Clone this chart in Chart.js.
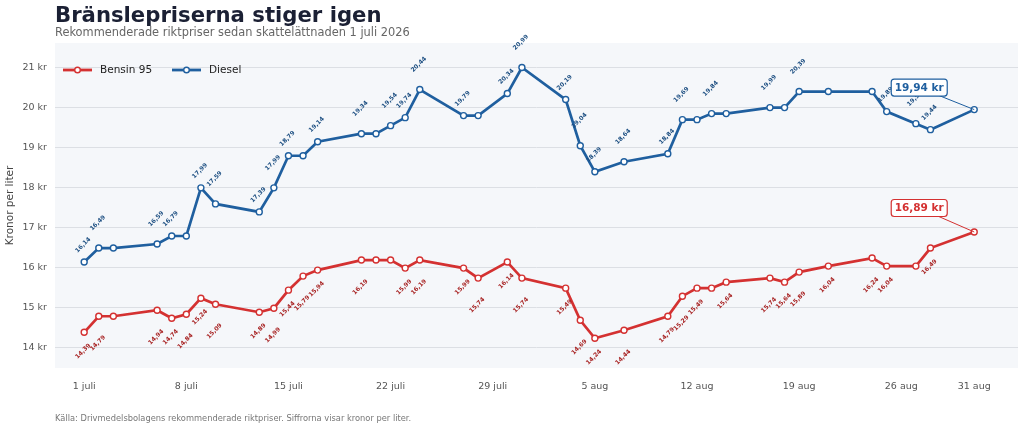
<!DOCTYPE html>
<html lang="sv">
<head>
<meta charset="utf-8">
<title>Bränslepriserna stiger igen</title>
<script src="https://cdn.jsdelivr.net/npm/chart.js@4.4.1/dist/chart.umd.min.js"></script>
<style>
  html, body { margin: 0; padding: 0; background: #fff; }
  #wrap { width: 1024px; height: 428px; }
</style>
</head>
<body>
<div id="wrap"><canvas id="prisChart" width="1024" height="428"></canvas></div>
<script>
// Datum med prisändringar (riktpris, kr/liter)
const datum = [
  '2026-07-01', '2026-07-02', '2026-07-03', '2026-07-06', '2026-07-07', '2026-07-08', '2026-07-09', '2026-07-10',
  '2026-07-13', '2026-07-14', '2026-07-15', '2026-07-16', '2026-07-17', '2026-07-20', '2026-07-21', '2026-07-22',
  '2026-07-23', '2026-07-24', '2026-07-27', '2026-07-28', '2026-07-30', '2026-07-31', '2026-08-03', '2026-08-04',
  '2026-08-05', '2026-08-07', '2026-08-10', '2026-08-11', '2026-08-12', '2026-08-13', '2026-08-14', '2026-08-17',
  '2026-08-18', '2026-08-19', '2026-08-21', '2026-08-24', '2026-08-25', '2026-08-27', '2026-08-28', '2026-08-31'
];
const bensin95 = [
  14.39, 14.79, 14.79, 14.94, 14.74, 14.84, 15.24, 15.09,
  14.89, 14.99, 15.44, 15.79, 15.94, 16.19, 16.19, 16.19,
  15.99, 16.19, 15.99, 15.74, 16.14, 15.74, 15.49, 14.69,
  14.24, 14.44, 14.79, 15.29, 15.49, 15.49, 15.64, 15.74,
  15.64, 15.89, 16.04, 16.24, 16.04, 16.04, 16.49, 16.89
];
const diesel = [
  16.14, 16.49, 16.49, 16.59, 16.79, 16.79, 17.99, 17.59,
  17.39, 17.99, 18.79, 18.79, 19.14, 19.34, 19.34, 19.54,
  19.74, 20.44, 19.79, 19.79, 20.34, 20.99, 20.19, 19.04,
  18.39, 18.64, 18.84, 19.69, 19.69, 19.84, 19.84, 19.99,
  19.99, 20.39, 20.39, 20.39, 19.89, 19.59, 19.44, 19.94
];
const tickDatum = ['2026-07-01', '2026-07-08', '2026-07-15', '2026-07-22', '2026-07-29',
  '2026-08-05', '2026-08-12', '2026-08-19', '2026-08-26', '2026-08-31'];
const tickEtiketter = ['1 juli', '8 juli', '15 juli', '22 juli', '29 juli',
  '5 aug', '12 aug', '19 aug', '26 aug', '31 aug'];
const yTicks = [14, 15, 16, 17, 18, 19, 20, 21];

const RED = '#d43131';
const BLUE = '#1f5f9f';
const FONT = "'DejaVu Sans', sans-serif";

// dagar sedan 1 juli
const start = Date.UTC(2026, 6, 1);
const dag = s => {
  const [y, m, d] = s.split('-').map(Number);
  return Math.round((Date.UTC(y, m - 1, d) - start) / 86400000);
};
const kr = v => v.toFixed(2).replace('.', ',');

Chart.defaults.font.family = FONT;

const plotBg = {
  id: 'plotBg',
  beforeDraw(chart) {
    const { ctx, chartArea: a } = chart;
    ctx.save();
    ctx.fillStyle = '#f5f7fa';
    ctx.fillRect(a.left, a.top, a.right - a.left, a.bottom - a.top);
    ctx.restore();
  }
};

// små roterade värden vid varje prisändring, varannan lite längre ut
const pointLabels = {
  id: 'pointLabels',
  afterDatasetsDraw(chart) {
    const { ctx } = chart;
    ctx.save();
    ctx.font = 'bold 6px ' + FONT;
    ctx.textAlign = 'center';
    ctx.textBaseline = 'middle';
    chart.data.datasets.forEach((ds, di) => {
      const meta = chart.getDatasetMeta(di);
      const vals = ds.data.map(p => p.y);
      ctx.fillStyle = ds.labelColor;
      meta.data.forEach((pt, i) => {
        if (i === vals.length - 1) return;
        if (i > 0 && vals[i] === vals[i - 1]) return;
        const off = ds.labelOffset[i % 2];
        ctx.save();
        ctx.translate(pt.x - 1, pt.y + off);
        ctx.rotate(-Math.PI / 4);
        ctx.fillText(kr(vals[i]), 0, 0);
        ctx.restore();
      });
    });
    ctx.restore();
  }
};

// rubrik, legend, sista värdet och källa
const extras = {
  id: 'extras',
  afterDraw(chart) {
    const { ctx } = chart;
    ctx.save();
    ctx.textBaseline = 'alphabetic';
    ctx.textAlign = 'left';
    ctx.fillStyle = '#1b2034';
    ctx.font = 'bold 21.2px ' + FONT;
    ctx.fillText('Bränslepriserna stiger igen', 55, 22);
    ctx.fillStyle = '#666';
    ctx.font = '11.4px ' + FONT;
    ctx.fillText('Rekommenderade riktpriser sedan skattelättnaden 1 juli 2026', 55, 36);
    ctx.fillStyle = '#777';
    ctx.font = '8.3px ' + FONT;
    ctx.fillText('Källa: Drivmedelsbolagens rekommenderade riktpriser. Siffrorna visar kronor per liter.', 55, 421);

    // legend
    const items = [
      { x: 63, text: 'Bensin 95', color: RED },
      { x: 172, text: 'Diesel', color: BLUE }
    ];
    const ly = 70;
    items.forEach(it => {
      ctx.strokeStyle = it.color;
      ctx.lineWidth = 2.8;
      ctx.beginPath();
      ctx.moveTo(it.x, ly);
      ctx.lineTo(it.x + 29, ly);
      ctx.stroke();
      ctx.beginPath();
      ctx.arc(it.x + 14.5, ly, 2.8, 0, Math.PI * 2);
      ctx.fillStyle = '#fff';
      ctx.fill();
      ctx.lineWidth = 1.4;
      ctx.stroke();
      ctx.fillStyle = '#222';
      ctx.font = '10.5px ' + FONT;
      ctx.textBaseline = 'middle';
      ctx.fillText(it.text, it.x + 37, ly);
    });

    // utrop för sista punkten
    chart.data.datasets.forEach((ds, di) => {
      const meta = chart.getDatasetMeta(di);
      const last = meta.data[meta.data.length - 1];
      const val = ds.data[ds.data.length - 1].y;
      const cx = last.x - 55, cy = last.y - ds.calloutDy;
      const w = 56, h = 17;
      ctx.strokeStyle = ds.borderColor;
      ctx.lineWidth = 1;
      ctx.beginPath();
      ctx.moveTo(cx, cy);
      ctx.lineTo(last.x, last.y);
      ctx.stroke();
      ctx.beginPath();
      ctx.roundRect(cx - w / 2, cy - h / 2, w, h, 3);
      ctx.fillStyle = '#fff';
      ctx.fill();
      ctx.lineWidth = 1.2;
      ctx.stroke();
      ctx.fillStyle = ds.borderColor;
      ctx.font = 'bold 10.5px ' + FONT;
      ctx.textAlign = 'center';
      ctx.textBaseline = 'middle';
      ctx.fillText(kr(val) + ' kr', cx, cy + 0.5);
      ctx.textAlign = 'left';
    });
    ctx.restore();
  }
};

const toPoints = vals => vals.map((v, i) => ({ x: dag(datum[i]), y: v }));

new Chart(document.getElementById('prisChart'), {
  type: 'line',
  data: {
    datasets: [{
      label: 'Bensin 95',
      data: toPoints(bensin95),
      borderColor: RED,
      borderWidth: 2.7,
      pointRadius: 3,
      pointBorderWidth: 1.4,
      pointBackgroundColor: '#fff',
      pointBorderColor: RED,
      tension: 0,
      labelColor: '#a82424',
      labelOffset: [19, 27],
      calloutDy: 24
    }, {
      label: 'Diesel',
      data: toPoints(diesel),
      borderColor: BLUE,
      borderWidth: 2.7,
      pointRadius: 3,
      pointBorderWidth: 1.4,
      pointBackgroundColor: '#fff',
      pointBorderColor: BLUE,
      tension: 0,
      labelColor: '#1d4f82',
      labelOffset: [-17, -25],
      calloutDy: 22
    }]
  },
  options: {
    responsive: false,
    animation: false,
    layout: { padding: { top: 43, right: 6, bottom: 36, left: 0 } },
    plugins: {
      legend: { display: false },
      tooltip: { enabled: false }
    },
    scales: {
      x: {
        type: 'linear',
        min: -2,
        max: 64,
        grid: { display: false },
        border: { display: false },
        afterBuildTicks: s => { s.ticks = tickDatum.map(d => ({ value: dag(d) })); },
        afterFit: s => { s.height = 24; },
        ticks: {
          autoSkip: false,
          maxRotation: 0,
          padding: 5,
          color: '#555',
          font: { size: 9.5 },
          callback: v => tickEtiketter[tickDatum.findIndex(d => dag(d) === v)]
        }
      },
      y: {
        min: 13.5,
        max: 21.6,
        border: { display: false },
        grid: { color: '#dcdfe4', lineWidth: 1, drawTicks: false },
        afterBuildTicks: s => { s.ticks = yTicks.map(v => ({ value: v })); },
        afterFit: s => { s.width = 55; },
        ticks: {
          padding: 8,
          color: '#555',
          font: { size: 9.5 },
          callback: v => v + ' kr'
        },
        title: {
          display: true,
          text: 'Kronor per liter',
          color: '#444',
          font: { size: 10.5 },
          padding: { top: 4, bottom: 0 }
        }
      }
    }
  },
  plugins: [plotBg, pointLabels, extras]
});
</script>
</body>
</html>
